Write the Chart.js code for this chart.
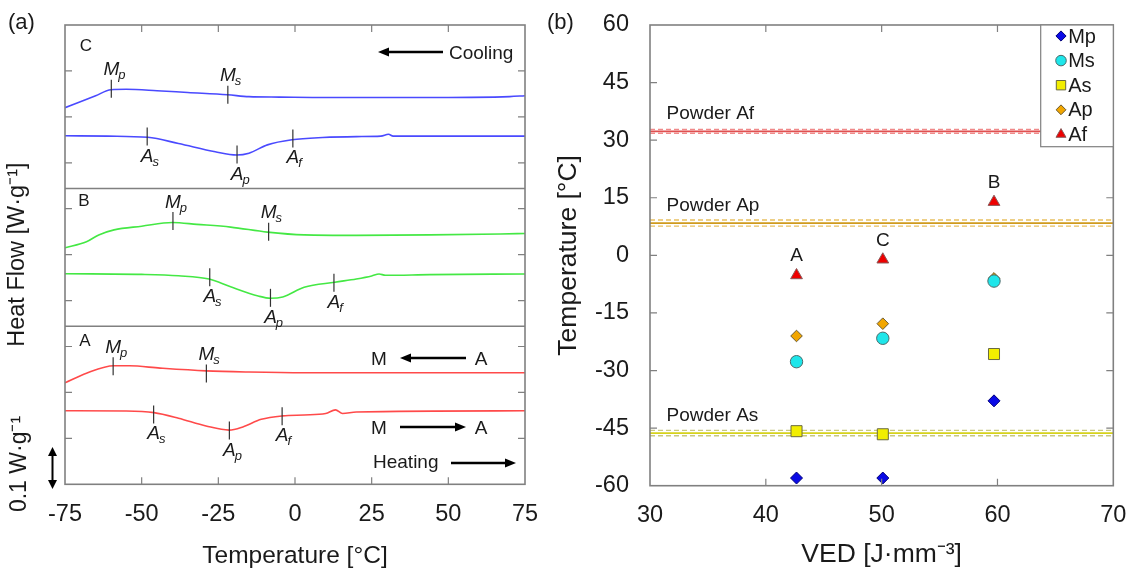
<!DOCTYPE html>
<html><head><meta charset="utf-8">
<script src="https://cdn.jsdelivr.net/npm/chart.js@4.4.1/dist/chart.umd.min.js"></script>
<style>
html,body{margin:0;padding:0;background:#fff;}
#wrap{position:relative;width:1129px;height:571px;overflow:hidden;font-family:"Liberation Sans",Arial,sans-serif;}
canvas{position:absolute;top:0;}
#ca{left:0;width:545px;height:571px;}
#cb{left:545px;width:584px;height:571px;}
.pl{position:absolute;font-size:22px;color:#1a1a1a;line-height:26px;}
</style></head><body>
<div id="wrap">
<canvas id="ca" width="545" height="571"></canvas>
<canvas id="cb" width="584" height="571"></canvas>
<div class="pl" style="left:8px;top:9px">(a)</div>
<div class="pl" style="left:547px;top:9px">(b)</div>
</div>
<script>
// ---------------- Panel (a): DSC curves ----------------
const tempTicks = [-75, -50, -25, 0, 25, 50, 75];
// Sample C (blue)
const cCoolT  = [-75, -70, -65, -60, -55, -45, -35, -22, -15, -5, 10, 30, 50, 65, 70, 75];
const cCoolHF = [8.20, 8.33, 8.46, 8.59, 8.60, 8.57, 8.53, 8.48, 8.44, 8.43, 8.42, 8.42, 8.42, 8.43, 8.44, 8.46];
const cHeatT  = [-75, -61, -48, -38, -26, -19, -15, -9, -1, 9, 20, 28, 30.5, 32, 50, 75];
const cHeatHF = [7.59, 7.58, 7.555, 7.42, 7.24, 7.17, 7.21, 7.39, 7.50, 7.55, 7.57, 7.58, 7.62, 7.58, 7.58, 7.58];
// Sample B (green)
const bCoolT  = [-75, -68, -64, -59, -50, -40, -32, -21, -9, 3, 20, 44, 67, 75];
const bCoolHF = [5.15, 5.28, 5.43, 5.54, 5.62, 5.70, 5.66, 5.60, 5.49, 5.43, 5.42, 5.43, 5.45, 5.46];
const bHeatT  = [-75, -50, -38, -28, -21, -12, -8, -4, 3, 13, 20, 25, 27.4, 29.5, 44, 75];
const bHeatHF = [4.585, 4.57, 4.54, 4.47, 4.30, 4.10, 4.05, 4.08, 4.29, 4.40, 4.47, 4.535, 4.58, 4.55, 4.565, 4.58];
// Sample A (red)
const aCoolT  = [-75, -68, -59, -54, -44, -29, -15, 3, 75];
const aCoolHF = [2.21, 2.42, 2.58, 2.58, 2.53, 2.47, 2.445, 2.43, 2.43];
const aHeatT  = [-75, -55, -46, -38, -29, -21.5, -17, -11, -4, 3, 10, 13.2, 15.5, 20, 75];
const aHeatHF = [1.60, 1.595, 1.56, 1.44, 1.27, 1.18, 1.25, 1.415, 1.49, 1.51, 1.54, 1.62, 1.54, 1.575, 1.60];
// Transition marks (Mp, Ms, As, Ap, Af)
const markNames = ['Mp', 'Ms', 'As', 'Ap', 'Af'];
const cMarkT  = [-59.9, -21.9, -48.2, -18.9, -0.7];
const cMarkHF = [8.61, 8.48, 7.57, 7.18, 7.53];
const bMarkT  = [-39.8, -8.6, -27.8, -8.0, 12.7];
const bMarkHF = [5.73, 5.50, 4.51, 4.06, 4.39];
const aMarkT  = [-59.3, -28.9, -46.1, -21.4, -4.2];
const aMarkHF = [2.57, 2.41, 1.52, 1.17, 1.48];
const panelDividers = [6.44, 3.44];

// ---------------- Panel (b): transformation temperatures ----------------
const sampleNames = ['A', 'C', 'B'];
const vedValues = [42.65, 50.1, 59.7];
const mpValues = [-58.0, -58.0, -37.9];
const msValues = [-27.7, -21.6, -6.7];
const asValues = [-45.8, -46.6, -25.7];
const apValues = [-21.0, -17.8, -6.0];
const afValues = [-5.2, -1.1, 13.9];
const powderNames = ['Powder Af', 'Powder Ap', 'Powder As'];
const powderMid   = [32.3, 8.4, -46.3];
const powderUpper = [32.8, 9.2, -45.6];
const powderLower = [31.8, 7.6, -47.0];
const vedTicks = [30, 40, 50, 60, 70];
const tempTicksB = [-60, -45, -30, -15, 0, 15, 30, 45, 60];

const FONT = '"Liberation Sans", Arial, sans-serif';
const TXT = '#1a1a1a';
const FRAME = '#808080';
Chart.defaults.font.family = FONT;
Chart.defaults.color = TXT;

function pts(T, H) { return T.map((t, i) => ({x: t, y: H[i]})); }

function drawArrow(ctx, x1, y1, x2, y2, head, w, lw) {
  const ang = Math.atan2(y2 - y1, x2 - x1);
  const bx = x2 - head * Math.cos(ang), by = y2 - head * Math.sin(ang);
  ctx.lineWidth = lw;
  ctx.beginPath(); ctx.moveTo(x1, y1); ctx.lineTo(bx, by); ctx.stroke();
  ctx.beginPath(); ctx.moveTo(x2, y2);
  ctx.lineTo(bx + w / 2 * Math.sin(ang), by - w / 2 * Math.cos(ang));
  ctx.lineTo(bx - w / 2 * Math.sin(ang), by + w / 2 * Math.cos(ang));
  ctx.closePath(); ctx.fill();
}

function markLabel(ctx, x, yBase, name) {
  ctx.textAlign = 'left'; ctx.textBaseline = 'alphabetic';
  ctx.font = 'italic 19px ' + FONT;
  const w = ctx.measureText(name[0]).width;
  ctx.fillText(name[0], x - w / 2, yBase);
  ctx.font = 'italic 13px ' + FONT;
  ctx.fillText(name[1], x + w / 2 - 1, yBase + 4);
}

function frameTicks(chart) {
  const {ctx, chartArea: a, scales: {x, y}} = chart;
  ctx.save();
  ctx.strokeStyle = FRAME;
  ctx.lineWidth = 1.2;
  const L = 7;
  ctx.beginPath();
  x.ticks.forEach(t => {
    const px = x.getPixelForValue(t.value);
    if (px <= a.left + 1 || px >= a.right - 1) return;
    ctx.moveTo(px, a.bottom); ctx.lineTo(px, a.bottom - L);
    ctx.moveTo(px, a.top); ctx.lineTo(px, a.top + L);
  });
  y.ticks.forEach(t => {
    const py = y.getPixelForValue(t.value);
    if (py <= a.top + 1 || py >= a.bottom - 1) return;
    ctx.moveTo(a.left, py); ctx.lineTo(a.left + L, py);
    ctx.moveTo(a.right, py); ctx.lineTo(a.right - L, py);
  });
  ctx.stroke();
  ctx.lineWidth = 1.6;
  ctx.strokeRect(a.left, a.top, a.right - a.left, a.bottom - a.top);
  ctx.restore();
}

const markSets = [
  {T: cMarkT, H: cMarkHF},
  {T: bMarkT, H: bMarkHF},
  {T: aMarkT, H: aMarkHF}
];

const dscPlugin = {
  id: 'dsc',
  afterDatasetsDraw(chart) {
    const {ctx, scales: {x, y}, chartArea: a} = chart;
    frameTicks(chart);
    ctx.save();
    ctx.strokeStyle = FRAME; ctx.lineWidth = 1.6;
    panelDividers.forEach(v => {
      const py = y.getPixelForValue(v);
      ctx.beginPath(); ctx.moveTo(a.left, py); ctx.lineTo(a.right, py); ctx.stroke();
    });
    ctx.fillStyle = TXT;
    markSets.forEach(s => {
      s.T.forEach((t, i) => {
        const px = x.getPixelForValue(t), py = y.getPixelForValue(s.H[i]);
        ctx.strokeStyle = '#333'; ctx.lineWidth = 1.2;
        ctx.beginPath(); ctx.moveTo(px, py - 9); ctx.lineTo(px, py + 9); ctx.stroke();
        const nm = markNames[i];
        if (nm[0] === 'M') markLabel(ctx, px, py - 13.5, nm);
        else markLabel(ctx, px, py + 25, nm);
      });
    });
    // sample letters
    ctx.font = '17px ' + FONT; ctx.textAlign = 'center'; ctx.textBaseline = 'alphabetic';
    ctx.fillText('C', 86, 51);
    ctx.fillText('B', 84, 206);
    ctx.fillText('A', 85, 346);
    // annotations
    ctx.strokeStyle = '#000';
    ctx.font = '19px ' + FONT; ctx.textAlign = 'left';
    ctx.fillStyle = TXT;
    ctx.fillText('Cooling', 449, 59);
    ctx.fillStyle = '#000';
    drawArrow(ctx, 443, 52, 378, 52, 11, 9, 2.4);
    ctx.fillStyle = TXT;
    ctx.textAlign = 'center';
    ctx.fillText('M', 379, 365);
    ctx.fillText('A', 481, 365);
    ctx.fillText('M', 379, 434);
    ctx.fillText('A', 481, 434);
    ctx.fillStyle = '#000';
    drawArrow(ctx, 466, 358, 400, 358, 11, 9, 2.4);
    drawArrow(ctx, 400, 427, 466, 427, 11, 9, 2.4);
    ctx.fillStyle = TXT;
    ctx.textAlign = 'left';
    ctx.fillText('Heating', 373, 468);
    ctx.fillStyle = '#000';
    drawArrow(ctx, 451, 463, 516, 463, 11, 9, 2.4);
    // scale bar
    drawArrow(ctx, 52.5, 467, 52.5, 447, 9, 9, 2);
    drawArrow(ctx, 52.5, 467, 52.5, 489, 9, 9, 2);
    ctx.fillStyle = TXT;
    ctx.translate(19.5, 464); ctx.rotate(-Math.PI / 2);
    ctx.font = '23px ' + FONT; ctx.textAlign = 'center'; ctx.textBaseline = 'middle';
    ctx.fillText('0.1 W·g⁻¹', 0, 0);
    ctx.restore();
  }
};

const lineDs = (T, H, color) => ({data: pts(T, H), borderColor: color, borderWidth: 1.6, pointRadius: 0, cubicInterpolationMode: 'monotone', fill: false});
const noPad = s => { s.paddingLeft = 0; s.paddingRight = 0; s.paddingTop = 0; s.paddingBottom = 0; };

new Chart(document.getElementById('ca'), {
  type: 'line',
  data: {datasets: [
    lineDs(cCoolT, cCoolHF, '#4a4aff'),
    lineDs(cHeatT, cHeatHF, '#4a4aff'),
    lineDs(bCoolT, bCoolHF, '#44e844'),
    lineDs(bHeatT, bHeatHF, '#44e844'),
    lineDs(aCoolT, aCoolHF, '#ff4a4a'),
    lineDs(aHeatT, aHeatHF, '#ff4a4a')
  ]},
  options: {
    responsive: false, animation: false, devicePixelRatio: 1,
    layout: {padding: {top: 25, right: 20, left: 0, bottom: 0}},
    plugins: {legend: {display: false}, tooltip: {enabled: false}},
    scales: {
      x: {
        type: 'linear', min: -75, max: 75,
        afterBuildTicks(s) { s.ticks = tempTicks.map(v => ({value: v})); },
        ticks: {font: {size: 23.5}, color: TXT, padding: 16, maxRotation: 0, autoSkip: false},
        grid: {display: false, drawTicks: false}, border: {display: false},
        title: {display: true, text: 'Temperature [°C]', font: {size: 24.5}, color: TXT, padding: {top: 0, bottom: 0}},
        afterFit(s) { s.height = 86.7; noPad(s); }
      },
      y: {
        type: 'linear', min: 0, max: 10,
        ticks: {stepSize: 1, display: false},
        grid: {display: false, drawTicks: false}, border: {display: false},
        title: {display: true, text: 'Heat Flow [W·g⁻¹]', font: {size: 23.5}, color: TXT, padding: {top: 3, bottom: 0}},
        afterFit(s) { s.width = 65; noPad(s); }
      }
    }
  },
  plugins: [dscPlugin]
});

// ---------------- Panel (b) ----------------
const legendPlugin = {
  id: 'vedLegend',
  afterDatasetsDraw(chart) {
    const {ctx, scales: {x, y}, chartArea: a} = chart;
    frameTicks(chart);
    ctx.save();
    ctx.fillStyle = TXT;
    ctx.font = '19px ' + FONT; ctx.textAlign = 'left'; ctx.textBaseline = 'alphabetic';
    powderNames.forEach((n, i) => ctx.fillText(n, a.left + 16.5, y.getPixelForValue(powderMid[i]) - 12));
    ctx.font = '19px ' + FONT; ctx.textAlign = 'center';
    sampleNames.forEach((n, i) => ctx.fillText(n, x.getPixelForValue(vedValues[i]), y.getPixelForValue(afValues[i]) - 14));
    // legend box
    const lw = 72.6, lh = 121.7, lx = a.right - lw, ly = a.top;
    ctx.fillStyle = '#fff'; ctx.fillRect(lx, ly, lw, lh);
    ctx.strokeStyle = FRAME; ctx.lineWidth = 1.2; ctx.strokeRect(lx, ly, lw, lh);
    const entries = chart.data.datasets.filter(d => d.legendEntry);
    entries.forEach((d, i) => {
      const cy = ly + 11 + i * 24.6;
      ctx.fillStyle = d.backgroundColor; ctx.strokeStyle = d.borderColor; ctx.lineWidth = 1;
      Chart.helpers.drawPoint(ctx, {pointStyle: d.pointStyle, radius: d.pointRadius * 0.85, borderWidth: 1}, lx + 20.3, cy);
      ctx.fillStyle = TXT; ctx.font = '20px ' + FONT; ctx.textAlign = 'left'; ctx.textBaseline = 'middle';
      ctx.fillText(d.label, lx + 27.5, cy + 1);
    });
    ctx.restore();
  }
};

const pointDs = (label, vals, style, r, bg, bd) => ({
  label, data: pts(vedValues, vals), legendEntry: true, showLine: false,
  pointStyle: style, pointRadius: r, backgroundColor: bg, borderColor: bd, pointBorderWidth: 1, order: 0
});
const hLine = (v, color, dash, w) => ({
  data: [{x: 30, y: v}, {x: 70, y: v}], type: 'line', showLine: true, pointRadius: 0,
  borderColor: color, borderWidth: w, borderDash: dash, order: 5, fill: false
});

new Chart(document.getElementById('cb'), {
  type: 'scatter',
  data: {datasets: [
    pointDs('Mp', mpValues, 'rectRot', 6, '#0a0ae6', '#00007a'),
    pointDs('Ms', msValues, 'circle', 6.2, '#1ee6ea', '#4a6a6a'),
    pointDs('As', asValues, 'rect', 7.8, '#f2ee00', '#6a6a40'),
    pointDs('Ap', apValues, 'rectRot', 5.8, '#f2a600', '#6a5a30'),
    pointDs('Af', afValues, 'triangle', 6.8, '#ee0000', '#8a5a5a'),
    hLine(powderUpper[0], '#f08a8a', [5, 3], 1.4),
    hLine(powderLower[0], '#f08a8a', [5, 3], 1.4),
    hLine(powderMid[0], '#e05050', [], 1.8),
    hLine(powderUpper[1], '#e8c060', [5, 3], 1.4),
    hLine(powderLower[1], '#e8c060', [5, 3], 1.4),
    hLine(powderMid[1], '#cf9a1c', [], 1.8),
    hLine(powderUpper[2], '#c8c880', [5, 3], 1.4),
    hLine(powderLower[2], '#c8c880', [5, 3], 1.4),
    hLine(powderMid[2], '#d6d21a', [], 1.8)
  ]},
  options: {
    responsive: false, animation: false, devicePixelRatio: 1,
    layout: {padding: {top: 25, right: 15.7, left: 0, bottom: 0}},
    plugins: {legend: {display: false}, tooltip: {enabled: false}},
    scales: {
      x: {
        type: 'linear', min: 30, max: 70,
        afterBuildTicks(s) { s.ticks = vedTicks.map(v => ({value: v})); },
        ticks: {font: {size: 23.5}, color: TXT, padding: 16, maxRotation: 0, autoSkip: false},
        grid: {display: false, drawTicks: false}, border: {display: false},
        title: {display: true, text: 'VED [J·mm⁻³]', font: {size: 26.5}, color: TXT, padding: {top: 0, bottom: 0}},
        afterFit(s) { s.height = 85.3; noPad(s); }
      },
      y: {
        type: 'linear', min: -60, max: 60,
        afterBuildTicks(s) { s.ticks = tempTicksB.map(v => ({value: v})); },
        ticks: {font: {size: 23.5}, color: TXT, padding: 21, autoSkip: false},
        grid: {display: false, drawTicks: false}, border: {display: false},
        title: {display: true, text: 'Temperature [°C]', font: {size: 26.5}, color: TXT, padding: {top: 8, bottom: 0}},
        afterFit(s) { s.width = 105; noPad(s); }
      }
    }
  },
  plugins: [legendPlugin]
});
</script>
</body></html>
